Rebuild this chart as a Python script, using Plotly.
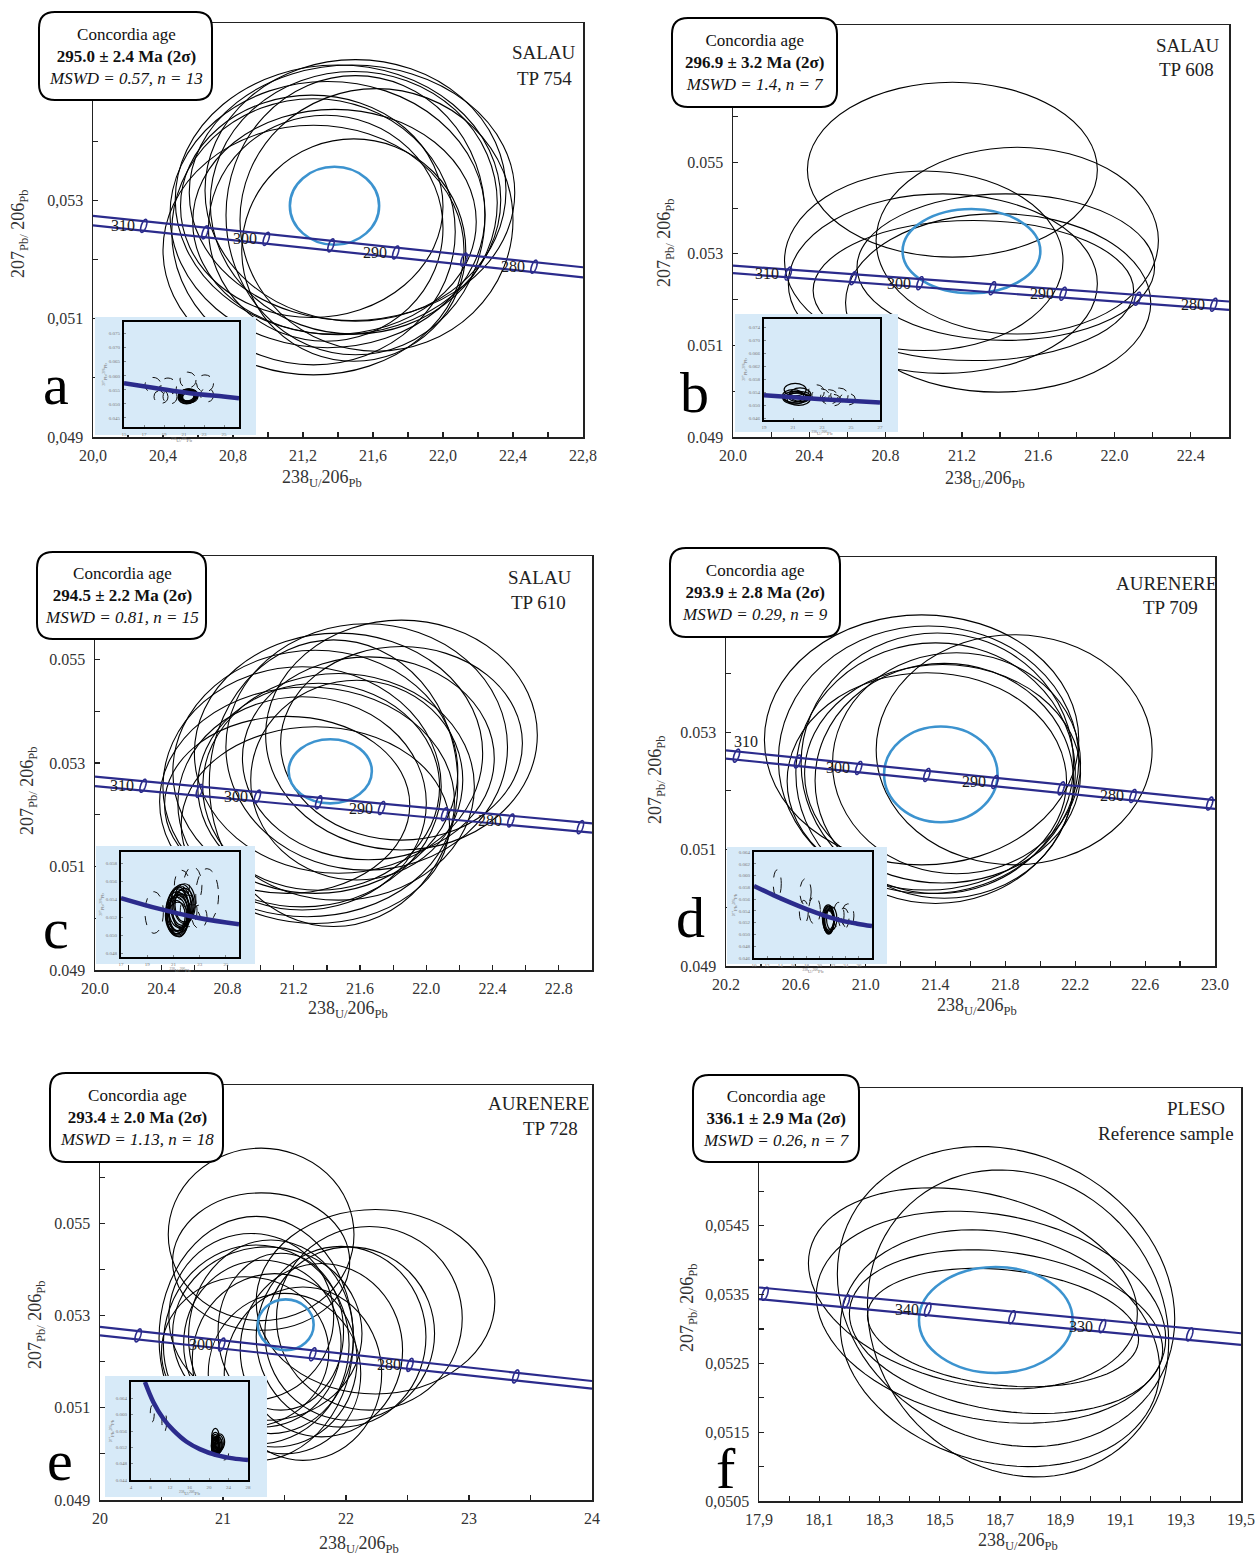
import math
import plotly.graph_objects as go

W, H = 1258, 1555
SERIF = "Liberation Serif"
CONC = "#2b2b8c"
MEAN = "#3c93cf"
LB = "#d7eaf8"
AXC = "#222222"
TXT = "#2a2a2a"

# ======================= DATA =======================
# ---------- panel a : SALAU TP 754 ----------
a_range_x = [20.0, 22.8]
a_range_y = [0.049, 0.056]
a_xtick_vals = [20.0, 20.4, 20.8, 21.2, 21.6, 22.0, 22.4, 22.8]
a_xtick_text = ["20,0", "20,4", "20,8", "21,2", "21,6", "22,0", "22,4", "22,8"]
a_xminor = [20.2, 20.6, 21.0, 21.4, 21.8, 22.2, 22.6]
a_ytick_vals = [0.049, 0.051, 0.053]
a_ytick_text = ["0,049", "0,051", "0,053"]
a_yminor = [0.050, 0.052, 0.054, 0.055]
a_ell_cx = [21.26, 21.34, 21.40, 21.48, 21.50, 21.26, 21.50, 21.62, 21.38, 21.49, 21.25, 21.49, 21.33]
a_ell_cy = [0.05216, 0.05276, 0.05301, 0.05313, 0.05317, 0.05247, 0.05275, 0.05267, 0.05264, 0.05296, 0.05290, 0.05216, 0.05253]
a_ell_sx = [0.86, 0.90, 0.93, 0.93, 0.86, 0.81, 0.74, 0.78, 0.81, 0.82, 0.75, 0.64, 0.67]
a_ell_sy = [0.00211, 0.00225, 0.00228, 0.00216, 0.00221, 0.00225, 0.00236, 0.00222, 0.00190, 0.00222, 0.00188, 0.00188, 0.00191]
a_ell_rho = [0.0] * 13
a_mean = [21.38, 0.05291, 0.255, 0.00066]
a_conc_x = [20.0, 22.8]
a_conc_upper = [0.05274, 0.05187]
a_conc_lower = [0.05258, 0.05170]
a_age = [310, 305, 300, 295, 290, 285, 280]
a_age_x = [20.29, 20.64, 20.99, 21.36, 21.73, 22.12, 22.52]
a_age_y = [0.05257, 0.05246, 0.05235, 0.05224, 0.05212, 0.05200, 0.05188]
a_age_labels = [310, 300, 290, 280]
a_text = ["Concordia age", "295.0 ± 2.4 Ma (2σ)", "MSWD = 0.57, n = 13"]
a_site = ["SALAU", "TP 754"]
a_in_range_x = [15, 26.5]
a_in_range_y = [0.0418, 0.0791]
a_in_xtick = [15, 17, 19, 21, 23, 25]
a_in_ytick = [0.045, 0.050, 0.055, 0.060, 0.065, 0.070, 0.075]
a_in_curve_x = [15, 18.24, 21.59, 24.93, 26.5]
a_in_curve_y = [0.05733, 0.05557, 0.05380, 0.05263, 0.05204]
a_in_dash_cx = [17.9, 19.4, 21.4, 23.1, 19.6, 23.3, 18.7]
a_in_dash_cy = [0.0567, 0.0562, 0.0585, 0.0573, 0.0526, 0.0532, 0.0526]
a_in_dash_sx = [0.80, 0.85, 0.80, 0.85, 0.70, 0.65, 0.70]
a_in_dash_sy = [0.0027, 0.0030, 0.0028, 0.0030, 0.0026, 0.0025, 0.0024]

# ---------- panel b : SALAU TP 608 ----------
b_range_x = [20.0, 22.6]
b_range_y = [0.049, 0.058]
b_xtick_vals = [20.0, 20.4, 20.8, 21.2, 21.6, 22.0, 22.4]
b_xtick_text = ["20.0", "20.4", "20.8", "21.2", "21.6", "22.0", "22.4"]
b_xminor = [20.2, 20.6, 21.0, 21.4, 21.8, 22.2]
b_ytick_vals = [0.049, 0.051, 0.053, 0.055]
b_ytick_text = ["0.049", "0.051", "0.053", "0.055"]
b_yminor = [0.050, 0.052, 0.054, 0.056, 0.057]
b_ell_cx = [21.15, 21.49, 21.00, 21.10, 21.39, 21.26, 21.43]
b_ell_cy = [0.05484, 0.05329, 0.05285, 0.05235, 0.05193, 0.05220, 0.05271]
b_ell_sx = [0.76, 0.74, 0.73, 0.81, 0.80, 0.84, 0.78]
b_ell_sy = [0.00191, 0.00204, 0.00196, 0.00196, 0.00195, 0.00153, 0.00160]
b_ell_rho = [0.0] * 7
b_mean = [21.25, 0.05306, 0.361, 0.00092]
b_conc_x = [20.0, 22.6]
b_conc_upper = [0.052745, 0.05196]
b_conc_lower = [0.052578, 0.051778]
b_age = [310, 305, 300, 295, 290, 285, 280]
b_age_x = [20.29, 20.63, 20.98, 21.36, 21.73, 22.12, 22.52]
b_age_y = [0.05257, 0.05247, 0.05236, 0.05225, 0.05213, 0.05202, 0.05189]
b_age_labels = [310, 300, 290, 280]
b_text = ["Concordia age", "296.9 ± 3.2 Ma (2σ)", "MSWD = 1.4, n = 7"]
b_site = ["SALAU", "TP 608"]
b_in_range_x = [19, 27]
b_in_range_y = [0.0455, 0.0765]
b_in_xtick = [19, 21, 23, 25, 27]
b_in_ytick = [0.046, 0.050, 0.054, 0.058, 0.062, 0.066, 0.070, 0.074]
b_in_curve_x = [19, 23, 27]
b_in_curve_y = [0.05312, 0.05190, 0.05088]
b_in_dash_cx = [22.6, 22.9, 23.5, 24.2, 24.75, 23.7]
b_in_dash_cy = [0.0541, 0.0531, 0.0526, 0.0531, 0.0519, 0.0516]
b_in_dash_sx = [0.55, 0.60, 0.60, 0.60, 0.55, 0.60]
b_in_dash_sy = [0.0022, 0.0020, 0.0022, 0.0022, 0.0018, 0.0018]

# ---------- panel c : SALAU TP 610 ----------
c_range_x = [20.0, 23.0]
c_range_y = [0.049, 0.057]
c_xtick_vals = [20.0, 20.4, 20.8, 21.2, 21.6, 22.0, 22.4, 22.8]
c_xtick_text = ["20.0", "20.4", "20.8", "21.2", "21.6", "22.0", "22.4", "22.8"]
c_xminor = [20.2, 20.6, 21.0, 21.4, 21.8, 22.2, 22.6]
c_ytick_vals = [0.049, 0.051, 0.053, 0.055]
c_ytick_text = ["0.049", "0.051", "0.053", "0.055"]
c_yminor = [0.050, 0.052, 0.054, 0.056]
c_ell_cx = [21.28, 21.25, 21.33, 21.47, 21.64, 21.85, 21.35, 21.44, 21.25, 21.65, 21.16, 21.85, 21.47, 21.33, 21.58]
c_ell_cy = [0.05225, 0.05254, 0.05283, 0.05319, 0.05331, 0.05354, 0.05254, 0.05261, 0.05222, 0.05309, 0.05219, 0.05338, 0.05254, 0.05180, 0.05267]
c_ell_sx = [0.89, 0.84, 0.86, 0.87, 0.85, 0.82, 0.73, 0.75, 0.75, 0.76, 0.74, 0.73, 0.82, 0.81, 0.64]
c_ell_sy = [0.00222, 0.00232, 0.00235, 0.00232, 0.00238, 0.00222, 0.00200, 0.00277, 0.00206, 0.00196, 0.00171, 0.00187, 0.00219, 0.00190, 0.00193]
c_ell_rho = [0.0] * 15
c_mean = [21.42, 0.05284, 0.251, 0.00062]
c_conc_x = [20.0, 23.0]
c_conc_upper = [0.052735, 0.051833]
c_conc_lower = [0.052554, 0.051653]
c_age = [310, 305, 300, 295, 290, 285, 280, 275]
c_age_x = [20.29, 20.63, 20.98, 21.35, 21.73, 22.11, 22.51, 22.93]
c_age_y = [0.05256, 0.05246, 0.05235, 0.05224, 0.05213, 0.05201, 0.05189, 0.05176]
c_age_labels = [310, 300, 290, 280]
c_text = ["Concordia age", "294.5 ± 2.2 Ma (2σ)", "MSWD = 0.81, n = 15"]
c_site = ["SALAU", "TP 610"]
c_in_range_x = [17, 26]
c_in_range_y = [0.0476, 0.0593]
c_in_xtick = [17, 19, 21, 23, 25]
c_in_ytick = [0.048, 0.050, 0.052, 0.054, 0.056, 0.058]
c_in_curve_x = [17, 19.86, 22.93, 26]
c_in_curve_y = [0.05417, 0.05299, 0.05195, 0.05124]
c_in_dash_cx = [19.53, 22.47, 23.57, 22.16, 22.98, 21.65]
c_in_dash_cy = [0.05256, 0.05552, 0.05448, 0.05274, 0.05208, 0.05560]
c_in_dash_sx = [0.70, 0.70, 0.87, 0.64, 0.58, 0.58]
c_in_dash_sy = [0.00232, 0.00213, 0.00296, 0.00176, 0.00130, 0.00167]

# ---------- panel d : AURENERE TP 709 ----------
d_range_x = [20.2, 23.0]
d_range_y = [0.049, 0.056]
d_xtick_vals = [20.2, 20.6, 21.0, 21.4, 21.8, 22.2, 22.6, 23.0]
d_xtick_text = ["20.2", "20.6", "21.0", "21.4", "21.8", "22.2", "22.6", "23.0"]
d_xminor = [20.4, 20.8, 21.2, 21.6, 22.0, 22.4, 22.8]
d_ytick_vals = [0.049, 0.051, 0.053]
d_ytick_text = ["0.049", "0.051", "0.053"]
d_yminor = [0.050, 0.052, 0.054, 0.055]
d_ell_cx = [21.32, 21.36, 21.40, 21.85, 21.44, 21.45, 21.35, 21.52, 21.41]
d_ell_cy = [0.05287, 0.05253, 0.05230, 0.05270, 0.05229, 0.05217, 0.05216, 0.05247, 0.05247]
d_ell_sx = [0.90, 0.86, 0.80, 0.79, 0.79, 0.74, 0.80, 0.71, 0.78]
d_ell_sy = [0.00214, 0.00229, 0.00223, 0.00197, 0.00187, 0.00201, 0.00186, 0.00189, 0.00223]
d_ell_rho = [0.0] * 9
d_mean = [21.43, 0.05228, 0.325, 0.00082]
d_conc_x = [20.2, 23.0]
d_conc_upper = [0.05269, 0.05184]
d_conc_lower = [0.05255, 0.05169]
d_age = [310, 305, 300, 295, 290, 285, 280, 275]
d_age_x = [20.26, 20.61, 20.96, 21.35, 21.74, 22.12, 22.53, 22.97]
d_age_y = [0.05260, 0.05250, 0.05239, 0.05227, 0.05215, 0.05204, 0.05191, 0.05178]
d_age_labels = [310, 300, 290, 280]
d_text = ["Concordia age", "293.9 ± 2.8 Ma (2σ)", "MSWD = 0.29, n = 9"]
d_site = ["AURENERE", "TP 709"]
d_in_range_x = [10, 28]
d_in_range_y = [0.046, 0.064]
d_in_xtick = [10, 12, 14, 16, 18, 20, 22, 24, 26]
d_in_ytick = [0.046, 0.048, 0.050, 0.052, 0.054, 0.056, 0.058, 0.060, 0.062, 0.064]
d_in_curve_x = [10, 13.04, 15.58, 18.11, 20.65, 23.18, 25.72, 28.0]
d_in_curve_y = [0.05823, 0.05664, 0.05540, 0.05426, 0.05325, 0.05240, 0.05183, 0.05143]
d_in_dash_cx = [13.55, 17.86, 19.23, 17.6, 22.93, 24.30, 23.69]
d_in_dash_cy = [0.05862, 0.05721, 0.05409, 0.05381, 0.05325, 0.05313, 0.05268]
d_in_dash_sx = [0.61, 0.86, 0.89, 0.68, 0.81, 0.94, 0.80]
d_in_dash_sy = [0.00235, 0.00226, 0.00235, 0.00198, 0.00220, 0.00207, 0.00180]

# ---------- panel e : AURENERE TP 728 ----------
e_range_x = [20, 24]
e_range_y = [0.049, 0.058]
e_xtick_vals = [20, 21, 22, 23, 24]
e_xtick_text = ["20", "21", "22", "23", "24"]
e_xminor = [20.5, 21.5, 22.5, 23.5]
e_ytick_vals = [0.049, 0.051, 0.053, 0.055]
e_ytick_text = ["0.049", "0.051", "0.053", "0.055"]
e_yminor = [0.050, 0.052, 0.054, 0.056, 0.057]
e_ell_cx = [21.31, 21.31, 22.24, 22.19, 22.03, 21.27, 21.27, 21.36, 21.32, 21.42, 21.50, 21.47, 21.23, 21.18, 21.65, 21.80, 21.96, 21.39]
e_ell_cy = [0.05476, 0.05417, 0.05330, 0.05294, 0.05261, 0.05250, 0.05237, 0.05261, 0.05239, 0.05203, 0.05174, 0.05265, 0.05297, 0.05221, 0.05174, 0.05225, 0.05254, 0.05254]
e_ell_sx = [0.755, 0.72, 0.97, 0.755, 0.69, 0.79, 0.755, 0.77, 0.64, 0.67, 0.62, 0.51, 0.67, 0.68, 0.64, 0.66, 0.69, 0.67]
e_ell_sy = [0.00187, 0.00149, 0.00200, 0.00199, 0.00188, 0.00265, 0.00216, 0.00188, 0.00181, 0.00188, 0.00174, 0.00170, 0.00181, 0.00163, 0.00188, 0.00188, 0.00196, 0.00210]
e_ell_rho = [0.0] * 18
e_mean = [21.51, 0.05280, 0.227, 0.00055]
e_conc_x = [20, 24]
e_conc_upper = [0.052754, 0.05158]
e_conc_lower = [0.052572, 0.051413]
e_age = [310, 300, 290, 280, 270]
e_age_x = [20.31, 20.99, 21.73, 22.52, 23.38]
e_age_y = [0.05257, 0.05237, 0.05216, 0.05193, 0.05168]
e_age_labels = [300, 280]
e_text = ["Concordia age", "293.4 ± 2.0 Ma (2σ)", "MSWD = 1.13, n = 18"]
e_site = ["AURENERE", "TP 728"]
e_in_range_x = [4, 28]
e_in_range_y = [0.044, 0.068]
e_in_xtick = [4, 8, 12, 16, 20, 24, 28]
e_in_ytick = [0.044, 0.048, 0.052, 0.056, 0.060, 0.064]
e_in_curve_x = [6.86, 8.57, 10.61, 12.66, 15.39, 18.11, 21.52, 24.93, 28.0]
e_in_curve_y = [0.0680, 0.06312, 0.05905, 0.0562, 0.05336, 0.05157, 0.0501, 0.04929, 0.04888]
e_in_dash_cx = [8.36, 10.82, 23.02]
e_in_dash_cy = [0.06027, 0.05824, 0.05051]
e_in_dash_sx = [0.41, 0.48, 1.0]
e_in_dash_sy = [0.00203, 0.00244, 0.00163]

# ---------- panel f : PLESO reference sample ----------
f_range_x = [17.9, 19.5]
f_range_y = [0.0505, 0.0565]
f_xtick_vals = [17.9, 18.1, 18.3, 18.5, 18.7, 18.9, 19.1, 19.3, 19.5]
f_xtick_text = ["17,9", "18,1", "18,3", "18,5", "18,7", "18,9", "19,1", "19,3", "19,5"]
f_xminor = [18.0, 18.2, 18.4, 18.6, 18.8, 19.0, 19.2, 19.4]
f_ytick_vals = [0.0505, 0.0515, 0.0525, 0.0535, 0.0545]
f_ytick_text = ["0,0505", "0,0515", "0,0525", "0,0535", "0,0545"]
f_yminor = [0.0510, 0.0520, 0.0530, 0.0540, 0.0550, 0.0555, 0.0560]
f_ell_cx = [18.72, 18.76, 18.61, 18.67, 18.70, 18.72, 18.71]
f_ell_cy = [0.05347, 0.05308, 0.05359, 0.05317, 0.05272, 0.05296, 0.05302]
f_ell_sx = [0.56, 0.50, 0.546, 0.58, 0.53, 0.52, 0.45]
f_ell_sy = [0.00218, 0.00223, 0.00146, 0.00154, 0.00172, 0.00119, 0.00086]
f_ell_rho = [-0.15, -0.12, -0.25, -0.20, -0.18, -0.22, -0.20]
f_mean = [18.686, 0.05313, 0.255, 0.00077]
f_conc_x = [17.9, 19.5]
f_conc_upper = [0.053602, 0.052937]
f_conc_lower = [0.053432, 0.052767]
f_age = [350, 345, 340, 335, 330, 325]
f_age_x = [17.92, 18.19, 18.46, 18.74, 19.04, 19.33]
f_age_y = [0.05351, 0.05340, 0.05328, 0.05317, 0.05304, 0.05292]
f_age_labels = [340, 330]
f_text = ["Concordia age", "336.1 ± 2.9 Ma (2σ)", "MSWD = 0.26, n = 7"]
f_site = ["PLESO", "Reference sample"]

# ======================= LAYOUT GEOMETRY (pixels) =======================
GEOM = {
    "a": dict(box=(93, 23, 583, 437), label=(39, 12, 212, 100), site=[(544, 53), (544, 78)],
              letter=(56, 384), ytitle=(20, 234), xtitle=(322, 478),
              lb=(95, 317, 256, 435), frame=(124, 322, 239, 427), shift={}),
    "b": dict(box=(733, 25, 1229, 437), label=(672, 18, 837, 107), site=[(1188, 45), (1186, 70)],
              letter=(694, 392), ytitle=(666, 243), xtitle=(985, 479),
              lb=(735, 314, 898, 432), frame=(764, 319, 880, 420), shift={}),
    "c": dict(box=(95, 556, 592, 970), label=(37, 552, 206, 639), site=[(540, 577), (538, 602)],
              letter=(56, 929), ytitle=(28, 790), xtitle=(348, 1010),
              lb=(96, 846, 255, 964), frame=(121, 852, 239, 957), shift={}),
    "d": dict(box=(726, 557, 1215, 966), label=(670, 548, 840, 637), site=[(1166, 583), (1170, 607)],
              letter=(690, 918), ytitle=(656, 780), xtitle=(977, 1006),
              lb=(727, 847, 887, 964), frame=(754, 852, 872, 958), shift={310: (31, -14)}),
    "e": dict(box=(100, 1085, 592, 1500), label=(50, 1073, 223, 1162), site=[(538, 1103), (550, 1128)],
              letter=(60, 1460), ytitle=(36, 1325), xtitle=(359, 1544),
              lb=(105, 1376, 267, 1497), frame=(131, 1382, 248, 1480), shift={}),
    "f": dict(box=(759, 1088, 1241, 1501), label=(693, 1075, 859, 1162), site=[(1196, 1108), (1166, 1133)],
              letter=(726, 1468), ytitle=(688, 1308), xtitle=(1018, 1541),
              lb=None, frame=None, shift={}),
}
MARKER_TILT = 0.6   # slant of the small age-marker ellipses on the concordia

G = globals()
PANELS = []
for k in "abcdef":
    p = dict(key=k)
    for name in ["range_x", "range_y", "xtick_vals", "xtick_text", "xminor", "ytick_vals", "ytick_text",
                 "yminor", "ell_cx", "ell_cy", "ell_sx", "ell_sy", "ell_rho", "mean", "conc_x",
                 "conc_upper", "conc_lower", "age", "age_x", "age_y", "age_labels", "text", "site"]:
        p[name] = G[f"{k}_{name}"]
    if k != "f":
        for name in ["in_range_x", "in_range_y", "in_xtick", "in_ytick", "in_curve_x", "in_curve_y",
                     "in_dash_cx", "in_dash_cy", "in_dash_sx", "in_dash_sy"]:
            p[name] = G[f"{k}_{name}"]
    PANELS.append(p)


def axn(i, kind):
    return f"{kind}axis" if i == 1 else f"{kind}axis{i}"


def axr(i, kind):
    return kind if i == 1 else f"{kind}{i}"


def dom_x(x0, x1):
    return [x0 / W, x1 / W]


def dom_y(y0, y1):
    return [1 - y1 / H, 1 - y0 / H]


def rounded_path(x0, y0, x1, y1, r):
    X = lambda v: f"{v / W:.6f}"
    Y = lambda v: f"{1 - v / H:.6f}"
    return (f"M {X(x0 + r)},{Y(y0)} L {X(x1 - r)},{Y(y0)} Q {X(x1)},{Y(y0)} {X(x1)},{Y(y0 + r)} "
            f"L {X(x1)},{Y(y1 - r)} Q {X(x1)},{Y(y1)} {X(x1 - r)},{Y(y1)} "
            f"L {X(x0 + r)},{Y(y1)} Q {X(x0)},{Y(y1)} {X(x0)},{Y(y1 - r)} "
            f"L {X(x0)},{Y(y0 + r)} Q {X(x0)},{Y(y0)} {X(x0 + r)},{Y(y0)} Z")


def error_ellipse_path(cx, cy, sx, sy, rho, n=90):
    # outline of an error ellipse with half-widths sx, sy and correlation rho
    pts = []
    c = math.sqrt(max(0.0, 1 - rho * rho))
    for k in range(n):
        t = 2 * math.pi * k / n
        pts.append(f"{cx + sx * math.cos(t):.6f},{cy + sy * (rho * math.cos(t) + c * math.sin(t)):.8f}")
    return "M " + " L ".join(pts) + " Z"


def ellipse_shape(xr, yr, cx, cy, sx, sy, rho, line):
    if rho == 0:
        return dict(type="circle", xref=xr, yref=yr, x0=cx - sx, x1=cx + sx, y0=cy - sy, y1=cy + sy,
                    line=line, fillcolor="rgba(0,0,0,0)", layer="below")
    return dict(type="path", xref=xr, yref=yr, path=error_ellipse_path(cx, cy, sx, sy, rho),
                line=line, fillcolor="rgba(0,0,0,0)", layer="below")


fig = go.Figure()
layout = dict(width=W, height=H, margin=dict(l=0, r=0, t=0, b=0, autoexpand=False), paper_bgcolor="white",
              plot_bgcolor=LB, showlegend=False, hovermode=False,
              font=dict(family=SERIF, color=TXT))
shapes, annotations = [], []

# ---------------- main panels ----------------
for i, P in enumerate(PANELS):
    idx = i + 1
    g = GEOM[P["key"]]
    x0p, y0p, x1p, y1p = g["box"]
    xr, yr = axr(idx, "x"), axr(idx, "y")
    tickfont = dict(family=SERIF, size=16, color="#333333")
    common = dict(ticks="inside", ticklen=5, tickwidth=1.2, tickcolor=AXC, showline=True, linecolor=AXC,
                  linewidth=1.5, mirror=True, showgrid=False, zeroline=False, tickfont=tickfont,
                  automargin=False, tickmode="array")
    layout[axn(idx, "x")] = dict(domain=dom_x(x0p, x1p), range=P["range_x"], anchor=yr,
                                 tickvals=P["xtick_vals"], ticktext=P["xtick_text"], ticklabelstandoff=3,
                                 minor=dict(tickvals=P["xminor"], ticks="inside", ticklen=5, tickwidth=1.2,
                                            tickcolor=AXC, showgrid=False), **common)
    layout[axn(idx, "y")] = dict(domain=dom_y(y0p, y1p), range=P["range_y"], anchor=xr,
                                 tickvals=P["ytick_vals"], ticktext=P["ytick_text"], ticklabelstandoff=5,
                                 minor=dict(tickvals=P["yminor"], ticks="inside", ticklen=5, tickwidth=1.2,
                                            tickcolor=AXC, showgrid=False), **common)
    kx = (x1p - x0p) / (P["range_x"][1] - P["range_x"][0])
    ky = (y1p - y0p) / (P["range_y"][1] - P["range_y"][0])

    # white plotting area
    shapes.append(dict(type="rect", xref=xr, yref=yr, x0=P["range_x"][0], x1=P["range_x"][1],
                       y0=P["range_y"][0], y1=P["range_y"][1], fillcolor="white",
                       line=dict(width=0), layer="below"))
    # analysis ellipses
    for cx, cy, sx, sy, rho in zip(P["ell_cx"], P["ell_cy"], P["ell_sx"], P["ell_sy"], P["ell_rho"]):
        shapes.append(ellipse_shape(xr, yr, cx, cy, sx, sy, rho, dict(color="black", width=1.1)))
    # concordia age ellipse
    mcx, mcy, msx, msy = P["mean"]
    shapes.append(ellipse_shape(xr, yr, mcx, mcy, msx, msy, 0, dict(color=MEAN, width=2.6)))
    # age markers on concordia (small slanted ellipses)
    hw, hh = 3.2 / kx, 6.5 / ky
    for ax_, ay_ in zip(P["age_x"], P["age_y"]):
        shapes.append(ellipse_shape(xr, yr, ax_, ay_, hw, hh, MARKER_TILT, dict(color=CONC, width=1.6)))
    # concordia band
    fig.add_trace(go.Scatter(x=P["conc_x"], y=P["conc_upper"], mode="lines", xaxis=xr, yaxis=yr,
                             line=dict(color=CONC, width=2.2), hoverinfo="skip"))
    fig.add_trace(go.Scatter(x=P["conc_x"], y=P["conc_lower"], mode="lines", xaxis=xr, yaxis=yr,
                             line=dict(color=CONC, width=2.2), hoverinfo="skip"))
    # age labels
    for age, ax_, ay_ in zip(P["age"], P["age_x"], P["age_y"]):
        if age in P["age_labels"]:
            dx, dy = g["shift"].get(age, (0, 0))
            annotations.append(dict(x=ax_ + (dx - 7.0) / kx, y=ay_ - dy / ky, xref=xr, yref=yr, text=str(age),
                                    showarrow=False, xanchor="right", yanchor="middle",
                                    font=dict(family=SERIF, size=16, color="#1a1a1a")))
    # label box (rounded)
    bx0, by0, bx1, by1 = g["label"]
    shapes.append(dict(type="path", xref="paper", yref="paper", path=rounded_path(bx0, by0, bx1, by1, 16),
                       fillcolor="white", line=dict(color="black", width=2), layer="above"))
    t = P["text"]
    annotations.append(dict(x=(bx0 + bx1) / 2 / W, y=1 - (by0 + by1) / 2 / H, xref="paper", yref="paper",
                            text=f"{t[0]}<br><b>{t[1]}</b><br><i>{t[2]}</i>", showarrow=False,
                            xanchor="center", yanchor="middle", align="center",
                            font=dict(family=SERIF, size=17, color="#111111")))
    # site / sample labels
    for txt, (sx_, sy_) in zip(P["site"], g["site"]):
        annotations.append(dict(x=sx_ / W, y=1 - sy_ / H, xref="paper", yref="paper", text=txt,
                                showarrow=False, xanchor="center", yanchor="middle",
                                font=dict(family=SERIF, size=19, color="#222222")))
    # panel letter
    lx, ly = g["letter"]
    annotations.append(dict(x=lx / W, y=1 - ly / H, xref="paper", yref="paper", text=P["key"],
                            showarrow=False, xanchor="center", yanchor="middle",
                            font=dict(family=SERIF, size=58, color="black")))
    # axis titles
    tx, ty = g["ytitle"]
    annotations.append(dict(x=tx / W, y=1 - ty / H, xref="paper", yref="paper", textangle=-90,
                            text="207<sub>Pb/</sub> 206<sub>Pb</sub>", showarrow=False,
                            xanchor="center", yanchor="middle",
                            font=dict(family=SERIF, size=18, color="#333333")))
    tx, ty = g["xtitle"]
    annotations.append(dict(x=tx / W, y=1 - ty / H, xref="paper", yref="paper",
                            text="238<sub>U/</sub>206<sub>Pb</sub>", showarrow=False,
                            xanchor="center", yanchor="middle",
                            font=dict(family=SERIF, size=18, color="#333333")))

# ---------------- inset light-blue backgrounds ----------------
insets = [P for P in PANELS if P["key"] != "f"]
n = len(PANELS)
for j, P in enumerate(insets):
    idx = n + 1 + j
    g = GEOM[P["key"]]
    x0p, y0p, x1p, y1p = g["lb"]
    xr, yr = axr(idx, "x"), axr(idx, "y")
    layout[axn(idx, "x")] = dict(domain=dom_x(x0p, x1p), range=[0, 1], anchor=yr, visible=False, automargin=False)
    layout[axn(idx, "y")] = dict(domain=dom_y(y0p, y1p), range=[0, 1], anchor=xr, visible=False, automargin=False)
    fig.add_trace(go.Scatter(x=[None], y=[None], mode="lines", xaxis=xr, yaxis=yr, hoverinfo="skip"))

# ---------------- inset plots ----------------
for j, P in enumerate(insets):
    idx = n + 1 + len(insets) + j
    g = GEOM[P["key"]]
    x0p, y0p, x1p, y1p = g["frame"]
    xr, yr = axr(idx, "x"), axr(idx, "y")
    tf = dict(family=SERIF, size=5, color="#777777")
    layout[axn(idx, "x")] = dict(domain=dom_x(x0p, x1p), range=P["in_range_x"], anchor=yr, automargin=False,
                                 tickmode="array", tickvals=P["in_xtick"],
                                 ticktext=[str(v) for v in P["in_xtick"]],
                                 ticks="inside", ticklen=2, tickwidth=0.6, tickcolor="#444",
                                 showline=True, linecolor="black", linewidth=2, mirror=True,
                                 showgrid=False, zeroline=False, tickfont=tf, ticklabelstandoff=1,
                                 title=dict(text="<sup>238</sup>U/<sup>206</sup>Pb", font=tf, standoff=1))
    layout[axn(idx, "y")] = dict(domain=dom_y(y0p, y1p), range=P["in_range_y"], anchor=xr, automargin=False,
                                 tickmode="array", tickvals=P["in_ytick"],
                                 ticktext=[f"{v:.3f}" for v in P["in_ytick"]],
                                 ticks="inside", ticklen=2, tickwidth=0.6, tickcolor="#444",
                                 showline=True, linecolor="black", linewidth=2, mirror=True,
                                 showgrid=False, zeroline=False, tickfont=tf, ticklabelstandoff=1,
                                 title=dict(text="<sup>207</sup>Pb/<sup>206</sup>Pb", font=tf, standoff=1))
    for cx, cy, sx, sy in zip(P["in_dash_cx"], P["in_dash_cy"], P["in_dash_sx"], P["in_dash_sy"]):
        shapes.append(ellipse_shape(xr, yr, cx, cy, sx, sy, 0, dict(color="#111111", width=1, dash="dash")))
    fig.add_trace(go.Scatter(x=P["in_curve_x"], y=P["in_curve_y"], mode="lines", xaxis=xr, yaxis=yr,
                             line=dict(color=CONC, width=4.5, shape="spline"), hoverinfo="skip"))
    for cx, cy, sx, sy, rho in zip(P["ell_cx"], P["ell_cy"], P["ell_sx"], P["ell_sy"], P["ell_rho"]):
        shapes.append(ellipse_shape(xr, yr, cx, cy, sx, sy, rho, dict(color="black", width=1.2)))

layout["shapes"] = shapes
layout["annotations"] = annotations
fig.update_layout(**layout)
fig.write_html("out.html", config={"displayModeBar": False, "staticPlot": True},
               post_script="document.body.style.margin='0px';")
